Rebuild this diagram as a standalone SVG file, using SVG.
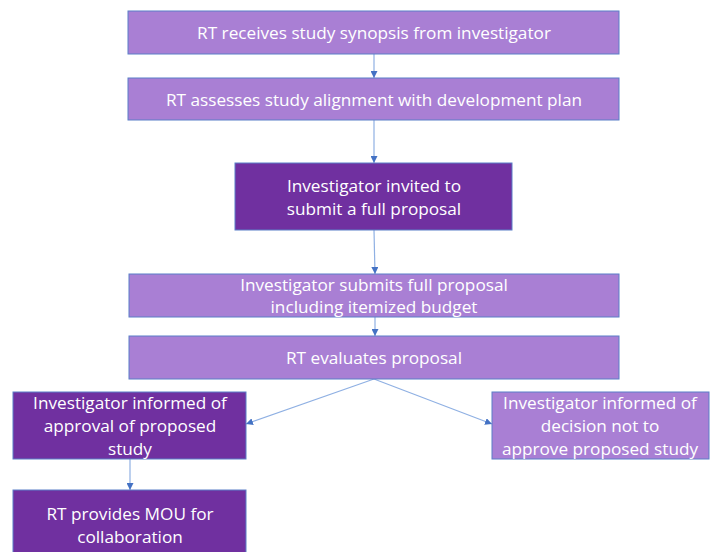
<svg xmlns="http://www.w3.org/2000/svg" width="710" height="552" viewBox="0 0 710 552">
<defs>
<style>
.light{fill:#a97fd4;stroke:#5b7fc7;stroke-width:1}
.dark{fill:#7030a0;stroke:#5b7fc7;stroke-width:1}
text{font-family:"Open Sans","Noto Sans",sans-serif;font-size:17.2px;fill:#ffffff;text-anchor:middle}
.conn{stroke:#8fb0e3;stroke-width:1.2;fill:none;marker-end:url(#ah)}
</style>
<marker id="ah" viewBox="0 0 10 10" refX="10" refY="5" markerWidth="7" markerHeight="7" orient="auto" markerUnits="userSpaceOnUse">
<path d="M0,0 L10,5 L0,10 z" fill="#4472c4"/>
</marker>
</defs>
<rect width="710" height="552" fill="#ffffff"/>
<g id="connectors">
<line class="conn" x1="374" y1="54" x2="374" y2="78"/>
<line class="conn" x1="374" y1="120" x2="374" y2="163"/>
<line class="conn" x1="374" y1="230" x2="375" y2="274"/>
<line class="conn" x1="375" y1="317" x2="375" y2="336"/>
<line class="conn" x1="374" y1="379" x2="246" y2="424"/>
<line class="conn" x1="374" y1="379" x2="492" y2="424"/>
<line class="conn" x1="130" y1="459" x2="130" y2="490"/>
</g>
<g id="n1"><rect class="light" x="128" y="11" width="491" height="43"/><text x="374" y="39">RT receives study synopsis from investigator</text></g>
<g id="n2"><rect class="light" x="128" y="78" width="491" height="42"/><text x="374" y="106">RT assesses study alignment with development plan</text></g>
<g id="n3"><rect class="dark" x="235" y="163" width="277" height="67"/><text x="374" y="192">Investigator invited to</text><text x="374" y="215">submit a full proposal</text></g>
<g id="n4"><rect class="light" x="129" y="274" width="490" height="43"/><text x="374" y="291">Investigator submits full proposal</text><text x="374" y="313">including itemized budget</text></g>
<g id="n5"><rect class="light" x="129" y="336" width="490" height="43"/><text x="374" y="364">RT evaluates proposal</text></g>
<g id="n6"><rect class="dark" x="13" y="392" width="233" height="67"/><text x="130" y="409">Investigator informed of</text><text x="130" y="432">approval of proposed</text><text x="130" y="455">study</text></g>
<g id="n7"><rect class="light" x="492" y="392" width="217" height="67"/><text x="600" y="409">Investigator informed of</text><text x="600" y="432">decision not to</text><text x="600" y="455">approve proposed study</text></g>
<g id="n8"><rect class="dark" x="13" y="490" width="233" height="66"/><text x="130" y="520">RT provides MOU for</text><text x="130" y="543">collaboration</text></g>
</svg>
